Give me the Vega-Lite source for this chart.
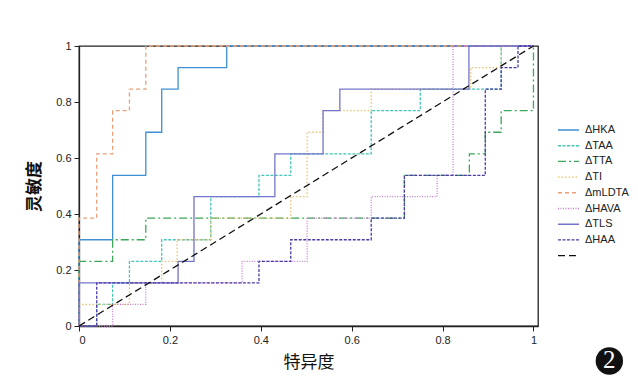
{
  "$schema": "https://vega.github.io/schema/vega-lite/v6.json",
  "width": 459,
  "height": 280,
  "autosize": {"type": "none"},
  "padding": {"left": 79, "top": 46, "right": 100, "bottom": 50},
  "background": "#ffffff",
  "config": {
    "view": {"stroke": "#222222", "strokeWidth": 1.3},
    "axis": {"labelFont": "Liberation Sans", "labelFontSize": 11, "labelColor": "#222", "domainColor": "#222", "domainWidth": 1.3, "tickColor": "#222", "tickSize": 5, "grid": false, "titleFont": "Noto Sans CJK SC", "titleFontSize": 17, "titleColor": "#111", "format": "~g"}
  },
  "layer": [
    {
      "data": {"values": [
        {"s":"ΔHKA","o":0,"x":0,"y":0},{"s":"ΔHKA","o":1,"x":0,"y":0.308},{"s":"ΔHKA","o":2,"x":0.074,"y":0.308},{"s":"ΔHKA","o":3,"x":0.074,"y":0.538},{"s":"ΔHKA","o":4,"x":0.147,"y":0.538},{"s":"ΔHKA","o":5,"x":0.147,"y":0.692},{"s":"ΔHKA","o":6,"x":0.182,"y":0.692},{"s":"ΔHKA","o":7,"x":0.182,"y":0.846},{"s":"ΔHKA","o":8,"x":0.218,"y":0.846},{"s":"ΔHKA","o":9,"x":0.218,"y":0.923},{"s":"ΔHKA","o":10,"x":0.325,"y":0.923},{"s":"ΔHKA","o":11,"x":0.325,"y":1},{"s":"ΔHKA","o":12,"x":1,"y":1},
        {"s":"ΔTAA","o":0,"x":0,"y":0},{"s":"ΔTAA","o":1,"x":0.039,"y":0},{"s":"ΔTAA","o":2,"x":0.039,"y":0.077},{"s":"ΔTAA","o":3,"x":0.074,"y":0.077},{"s":"ΔTAA","o":4,"x":0.074,"y":0.154},{"s":"ΔTAA","o":5,"x":0.111,"y":0.154},{"s":"ΔTAA","o":6,"x":0.111,"y":0.231},{"s":"ΔTAA","o":7,"x":0.182,"y":0.231},{"s":"ΔTAA","o":8,"x":0.182,"y":0.308},{"s":"ΔTAA","o":9,"x":0.29,"y":0.308},{"s":"ΔTAA","o":10,"x":0.29,"y":0.462},{"s":"ΔTAA","o":11,"x":0.396,"y":0.462},{"s":"ΔTAA","o":12,"x":0.396,"y":0.538},{"s":"ΔTAA","o":13,"x":0.466,"y":0.538},{"s":"ΔTAA","o":14,"x":0.466,"y":0.615},{"s":"ΔTAA","o":15,"x":0.643,"y":0.615},{"s":"ΔTAA","o":16,"x":0.643,"y":0.769},{"s":"ΔTAA","o":17,"x":0.751,"y":0.769},{"s":"ΔTAA","o":18,"x":0.751,"y":0.846},{"s":"ΔTAA","o":19,"x":0.929,"y":0.846},{"s":"ΔTAA","o":20,"x":0.929,"y":1},{"s":"ΔTAA","o":21,"x":1,"y":1},
        {"s":"ΔTTA","o":0,"x":0,"y":0},{"s":"ΔTTA","o":1,"x":0,"y":0.231},{"s":"ΔTTA","o":2,"x":0.074,"y":0.231},{"s":"ΔTTA","o":3,"x":0.074,"y":0.308},{"s":"ΔTTA","o":4,"x":0.147,"y":0.308},{"s":"ΔTTA","o":5,"x":0.147,"y":0.385},{"s":"ΔTTA","o":6,"x":0.716,"y":0.385},{"s":"ΔTTA","o":7,"x":0.716,"y":0.538},{"s":"ΔTTA","o":8,"x":0.859,"y":0.538},{"s":"ΔTTA","o":9,"x":0.859,"y":0.615},{"s":"ΔTTA","o":10,"x":0.894,"y":0.615},{"s":"ΔTTA","o":11,"x":0.894,"y":0.692},{"s":"ΔTTA","o":12,"x":0.929,"y":0.692},{"s":"ΔTTA","o":13,"x":0.929,"y":0.769},{"s":"ΔTTA","o":14,"x":1,"y":0.769},{"s":"ΔTTA","o":15,"x":1,"y":1},
        {"s":"ΔTI","o":0,"x":0,"y":0},{"s":"ΔTI","o":1,"x":0,"y":0.077},{"s":"ΔTI","o":2,"x":0.111,"y":0.077},{"s":"ΔTI","o":3,"x":0.111,"y":0.154},{"s":"ΔTI","o":4,"x":0.182,"y":0.154},{"s":"ΔTI","o":5,"x":0.182,"y":0.231},{"s":"ΔTI","o":6,"x":0.216,"y":0.231},{"s":"ΔTI","o":7,"x":0.216,"y":0.308},{"s":"ΔTI","o":8,"x":0.29,"y":0.308},{"s":"ΔTI","o":9,"x":0.29,"y":0.385},{"s":"ΔTI","o":10,"x":0.466,"y":0.385},{"s":"ΔTI","o":11,"x":0.466,"y":0.462},{"s":"ΔTI","o":12,"x":0.502,"y":0.462},{"s":"ΔTI","o":13,"x":0.502,"y":0.692},{"s":"ΔTI","o":14,"x":0.537,"y":0.692},{"s":"ΔTI","o":15,"x":0.537,"y":0.769},{"s":"ΔTI","o":16,"x":0.643,"y":0.769},{"s":"ΔTI","o":17,"x":0.643,"y":0.846},{"s":"ΔTI","o":18,"x":0.862,"y":0.846},{"s":"ΔTI","o":19,"x":0.862,"y":0.923},{"s":"ΔTI","o":20,"x":0.929,"y":0.923},{"s":"ΔTI","o":21,"x":0.929,"y":1},{"s":"ΔTI","o":22,"x":1,"y":1},
        {"s":"ΔmLDTA","o":0,"x":0,"y":0},{"s":"ΔmLDTA","o":1,"x":0,"y":0.385},{"s":"ΔmLDTA","o":2,"x":0.039,"y":0.385},{"s":"ΔmLDTA","o":3,"x":0.039,"y":0.615},{"s":"ΔmLDTA","o":4,"x":0.074,"y":0.615},{"s":"ΔmLDTA","o":5,"x":0.074,"y":0.769},{"s":"ΔmLDTA","o":6,"x":0.111,"y":0.769},{"s":"ΔmLDTA","o":7,"x":0.111,"y":0.846},{"s":"ΔmLDTA","o":8,"x":0.147,"y":0.846},{"s":"ΔmLDTA","o":9,"x":0.147,"y":1},{"s":"ΔmLDTA","o":10,"x":1,"y":1},
        {"s":"ΔHAVA","o":0,"x":0,"y":0},{"s":"ΔHAVA","o":1,"x":0.074,"y":0},{"s":"ΔHAVA","o":2,"x":0.074,"y":0.077},{"s":"ΔHAVA","o":3,"x":0.147,"y":0.077},{"s":"ΔHAVA","o":4,"x":0.147,"y":0.154},{"s":"ΔHAVA","o":5,"x":0.359,"y":0.154},{"s":"ΔHAVA","o":6,"x":0.359,"y":0.231},{"s":"ΔHAVA","o":7,"x":0.502,"y":0.231},{"s":"ΔHAVA","o":8,"x":0.502,"y":0.385},{"s":"ΔHAVA","o":9,"x":0.643,"y":0.385},{"s":"ΔHAVA","o":10,"x":0.643,"y":0.462},{"s":"ΔHAVA","o":11,"x":0.788,"y":0.462},{"s":"ΔHAVA","o":12,"x":0.788,"y":0.538},{"s":"ΔHAVA","o":13,"x":0.823,"y":0.538},{"s":"ΔHAVA","o":14,"x":0.823,"y":1},{"s":"ΔHAVA","o":15,"x":1,"y":1},
        {"s":"ΔTLS","o":0,"x":0,"y":0},{"s":"ΔTLS","o":1,"x":0,"y":0.154},{"s":"ΔTLS","o":2,"x":0.218,"y":0.154},{"s":"ΔTLS","o":3,"x":0.218,"y":0.231},{"s":"ΔTLS","o":4,"x":0.253,"y":0.231},{"s":"ΔTLS","o":5,"x":0.253,"y":0.462},{"s":"ΔTLS","o":6,"x":0.431,"y":0.462},{"s":"ΔTLS","o":7,"x":0.431,"y":0.615},{"s":"ΔTLS","o":8,"x":0.537,"y":0.615},{"s":"ΔTLS","o":9,"x":0.537,"y":0.769},{"s":"ΔTLS","o":10,"x":0.574,"y":0.769},{"s":"ΔTLS","o":11,"x":0.574,"y":0.846},{"s":"ΔTLS","o":12,"x":0.858,"y":0.846},{"s":"ΔTLS","o":13,"x":0.858,"y":1},{"s":"ΔTLS","o":14,"x":1,"y":1},
        {"s":"ΔHAA","o":0,"x":0,"y":0},{"s":"ΔHAA","o":1,"x":0.039,"y":0},{"s":"ΔHAA","o":2,"x":0.039,"y":0.154},{"s":"ΔHAA","o":3,"x":0.396,"y":0.154},{"s":"ΔHAA","o":4,"x":0.396,"y":0.231},{"s":"ΔHAA","o":5,"x":0.466,"y":0.231},{"s":"ΔHAA","o":6,"x":0.466,"y":0.308},{"s":"ΔHAA","o":7,"x":0.643,"y":0.308},{"s":"ΔHAA","o":8,"x":0.643,"y":0.385},{"s":"ΔHAA","o":9,"x":0.716,"y":0.385},{"s":"ΔHAA","o":10,"x":0.716,"y":0.538},{"s":"ΔHAA","o":11,"x":0.894,"y":0.538},{"s":"ΔHAA","o":12,"x":0.894,"y":0.846},{"s":"ΔHAA","o":13,"x":0.929,"y":0.846},{"s":"ΔHAA","o":14,"x":0.929,"y":0.923},{"s":"ΔHAA","o":15,"x":0.966,"y":0.923},{"s":"ΔHAA","o":16,"x":0.966,"y":1},{"s":"ΔHAA","o":17,"x":1,"y":1},
        {"s":"diag","o":0,"x":0,"y":0},{"s":"diag","o":1,"x":1,"y":1}
      ]},
      "mark": {"type": "line", "strokeWidth": 1.3, "clip": false},
      "encoding": {
        "x": {"field": "x", "type": "quantitative", "scale": {"domain": [0, 1.01], "nice": false}, "axis": {"values": [0, 0.2, 0.4, 0.6, 0.8, 1], "title": "特异度", "titleFontWeight": "normal", "titlePadding": 9, "labelPadding": 3}},
        "y": {"field": "y", "type": "quantitative", "scale": {"domain": [0, 1], "nice": false}, "axis": {"values": [0, 0.2, 0.4, 0.6, 0.8, 1], "title": "灵敏度", "titleFontWeight": "bold", "titlePadding": 12, "labelPadding": 3}},
        "order": {"field": "o", "type": "quantitative"},
        "detail": {"field": "s"},
        "color": {"field": "s", "type": "nominal", "title": null,
          "scale": {"domain": ["ΔHKA","ΔTAA","ΔTTA","ΔTI","ΔmLDTA","ΔHAVA","ΔTLS","ΔHAA","diag"],
                    "range": ["#3f8fd2","#45c4b8","#3da65a","#e6c36a","#e9a077","#c57fd0","#7474cc","#4b3aa6","#111111"]},
          "legend": {"orient": "none", "legendX": 478, "legendY": 77, "symbolType": "stroke", "symbolSize": 441, "symbolStrokeWidth": 1.4, "labelFont": "Liberation Sans", "labelFontSize": 11, "labelColor": "#222", "labelOffset": 5, "clipHeight": 14, "rowPadding": 1.7, "labelExpr": "datum.label == 'diag' ? '' : datum.label"}},
        "strokeDash": {"field": "s", "type": "nominal", "title": null,
          "scale": {"domain": ["ΔHKA","ΔTAA","ΔTTA","ΔTI","ΔmLDTA","ΔHAVA","ΔTLS","ΔHAA","diag"],
                    "range": [[1,0],[3,1.5],[8,3,2,3],[1.5,2],[4,3],[1,1.5],[1,0],[3,1.5],[7,4]]}}
      }
    },
    {
      "data": {"values": [{"label": "2"}]},
      "mark": {"type": "point", "shape": "circle", "filled": true, "size": 750, "color": "#111111", "opacity": 1, "clip": false},
      "encoding": {"x": {"datum": 1.167}, "y": {"datum": -0.125}}
    },
    {
      "data": {"values": [{"label": "2"}]},
      "mark": {"type": "text", "font": "Liberation Serif", "fontSize": 25, "color": "#ffffff", "baseline": "middle", "align": "center", "clip": false},
      "encoding": {"x": {"datum": 1.167}, "y": {"datum": -0.12}, "text": {"field": "label"}}
    }
  ]
}
